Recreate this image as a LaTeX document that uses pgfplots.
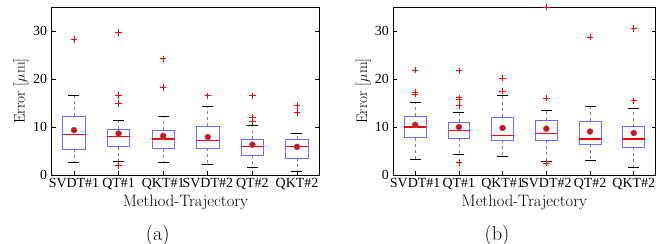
\documentclass[border=0pt]{standalone}
\usepackage{fontspec}
\usepackage{pgfplots}
\pgfplotsset{compat=1.18}
\usepgfplotslibrary{statistics}
\newfontfamily\timesf{Liberation Serif}
\definecolor{boxblue}{rgb}{0.42,0.42,1}
\definecolor{meanedge}{rgb}{0.35,0.42,0.65}
\pgfplotsset{
  mybox/.style={
    scale only axis, height=168bp,
    xmin=0.5, xmax=6.5, ymin=0, ymax=35,
    xtick={1,2,3,4,5,6},
    xticklabels={SVDT\#1,QT\#1,QKT\#1,SVDT\#2,QT\#2,QKT\#2},
    ytick={0,10,20,30},
    xtick pos=bottom, ytick pos=both,
    tick align=inside, major tick length=4bp,
    axis line style={black, line width=0.8bp},
    every tick/.style={black, line width=0.7bp},
    /pgf/number format/assume math mode=true,
    ticklabel style={font=\timesf\fontsize{14}{15}\selectfont},
    yticklabel style={xshift=-1bp},
    xlabel={Method-Trajectory},
    ylabel={Error [$\mu$m]},
    xlabel style={font=\fontsize{16.6}{18}\selectfont, at={(axis description cs:0.5,-0.161)}, anchor=center},
    boxplot/draw direction=y,
    boxplot/box extend=0.5,
    boxplot/whisker extend=0,
    boxplot/every box/.style={draw=boxblue, line width=0.8bp},
    boxplot/every whisker/.style={draw=gray, dash pattern=on 3bp off 3bp, line width=0.6bp},
    boxplot/every median/.style={draw=red, line width=1.2bp},
  },
  bp/.style={boxplot/draw direction=y, boxplot prepared={#1}},
  outl/.style={only marks, mark=+, mark size=3.2bp, mark options={draw=red, line width=0.7bp}, draw=red},
  caps/.style={only marks, mark=-, mark size=5.5bp, mark options={draw=black, line width=0.7bp}},
  means/.style={only marks, mark=*, mark size=3bp, mark options={fill=red, draw=meanedge, line width=0.5bp}},
}
\begin{document}
\begin{tikzpicture}
\begin{axis}[mybox, width=267.6bp, at={(0,0)}, anchor=south west,
  ylabel style={font=\fontsize{15.3}{17}\selectfont, at={(axis description cs:-0.1157,0.5)}, anchor=center}]
\addplot[bp={lower whisker=2.65, lower quartile=5.4, median=8.5, upper quartile=12.3, upper whisker=16.5, draw position=1}] coordinates {};
\addplot[bp={lower whisker=2.9, lower quartile=5.9, median=8.1, upper quartile=9.5, upper whisker=11.4, draw position=2}] coordinates {};
\addplot[bp={lower whisker=2.65, lower quartile=5.45, median=7.5, upper quartile=9.35, upper whisker=12.2, draw position=3}] coordinates {};
\addplot[bp={lower whisker=2.2, lower quartile=5.6, median=7.25, upper quartile=10.2, upper whisker=14.4, draw position=4}] coordinates {};
\addplot[bp={lower whisker=1.6, lower quartile=4.1, median=6.0, upper quartile=7.45, upper whisker=10.4, draw position=5}] coordinates {};
\addplot[bp={lower whisker=0.77, lower quartile=3.5, median=6.0, upper quartile=7.45, upper whisker=8.7, draw position=6}] coordinates {};
\addplot[caps] coordinates {(1,2.65)(1,16.5)(2,2.9)(2,11.4)(3,2.65)(3,12.2)(4,2.2)(4,14.4)(5,1.6)(5,10.4)(6,0.77)(6,8.7)};
\addplot[outl] coordinates {(1,28.2)(2,29.7)(2,16.6)(2,14.9)(2,1.95)(3,24.2)(3,18.2)(4,16.5)(5,16.5)(5,12.05)(5,11.1)(6,14.45)(6,13.0)};
\addplot[means] coordinates {(1,9.35)(2,8.65)(3,8.15)(4,7.9)(5,6.3)(6,5.86)};
\end{axis}
\begin{axis}[mybox, width=262.3bp, at={(341.6bp,0)}, anchor=south west,
  ylabel style={font=\fontsize{15.3}{17}\selectfont, at={(axis description cs:-0.1145,0.5)}, anchor=center}]
\addplot[bp={lower whisker=3.3, lower quartile=7.8, median=10.0, upper quartile=12.25, upper whisker=15.2, draw position=1}] coordinates {};
\addplot[bp={lower whisker=4.3, lower quartile=7.65, median=9.3, upper quartile=11.0, upper whisker=13.1, draw position=2}] coordinates {};
\addplot[bp={lower whisker=3.9, lower quartile=7.25, median=8.3, upper quartile=12.05, upper whisker=16.6, draw position=3}] coordinates {};
\addplot[bp={lower whisker=2.85, lower quartile=7.2, median=8.7, upper quartile=11.4, upper whisker=13.5, draw position=4}] coordinates {};
\addplot[bp={lower whisker=3.1, lower quartile=6.4, median=7.5, upper quartile=11.2, upper whisker=14.35, draw position=5}] coordinates {};
\addplot[bp={lower whisker=1.65, lower quartile=5.85, median=7.5, upper quartile=10.1, upper whisker=13.8, draw position=6}] coordinates {};
\addplot[caps] coordinates {(1,3.3)(1,15.2)(2,4.3)(2,13.1)(3,3.9)(3,16.6)(4,2.85)(4,13.5)(5,3.1)(5,14.35)(6,1.65)(6,13.8)};
\addplot[outl, clip=false] coordinates {(1,21.85)(1,17.25)(1,16.9)(2,21.7)(2,16.1)(2,15.85)(2,14.5)(2,2.6)(3,20.2)(3,17.5)(4,35.0)(4,16.0)(4,2.5)(5,28.7)(6,30.5)(6,15.45)};
\addplot[means] coordinates {(1,10.45)(2,10.0)(3,9.8)(4,9.65)(5,9.05)(6,8.75)};
\end{axis}
\node[font=\fontsize{20.5}{22}\selectfont, anchor=center] at (106bp,-60.5bp) {(a)};
\node[font=\fontsize{20.5}{22}\selectfont, anchor=center] at (445.3bp,-60.5bp) {(b)};
\pgfresetboundingbox
\path[use as bounding box] (-51.7bp,-69bp) rectangle (617.3bp,175bp);
\end{tikzpicture}
\end{document}
